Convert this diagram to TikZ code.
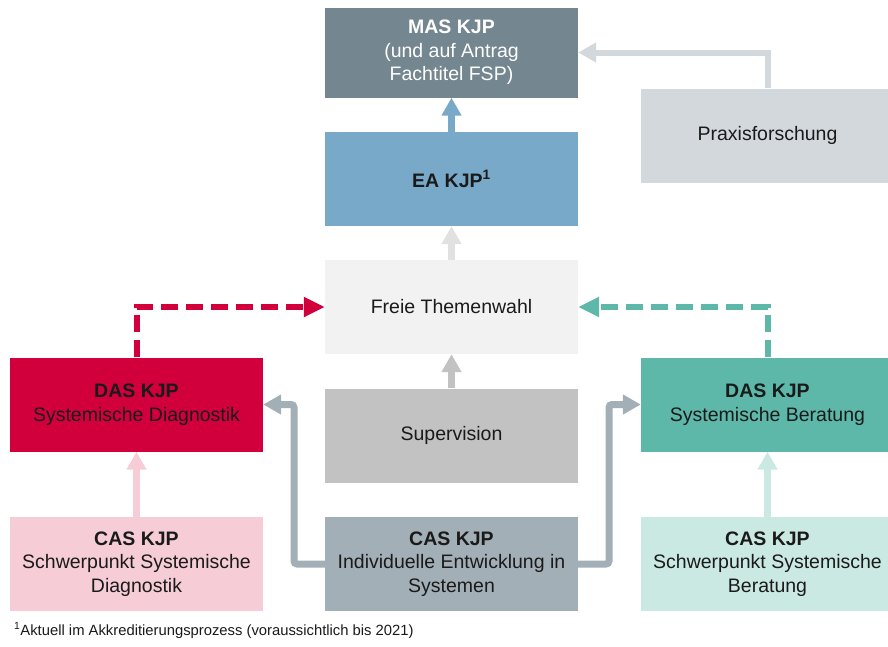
\documentclass[tikz,border=0pt]{standalone}
\usepackage{fontspec}
\setmainfont{Liberation Sans}
\usepackage{tikz}
\usetikzlibrary{arrows.meta,positioning,calc}
\usepackage{xcolor}

\definecolor{masgray}{HTML}{74868F}
\definecolor{praxgray}{HTML}{D3D8DC}
\definecolor{eablue}{HTML}{79A9C9}
\definecolor{freegray}{HTML}{F2F2F2}
\definecolor{diagred}{HTML}{D1003C}
\definecolor{supgray}{HTML}{C2C2C2}
\definecolor{berteal}{HTML}{5EB8AA}
\definecolor{diagpink}{HTML}{F6CDD6}
\definecolor{indgray}{HTML}{A3AFB7}
\definecolor{berpale}{HTML}{CBE9E3}
\definecolor{txtdark}{HTML}{1A1A1A}

\begin{document}
\begin{tikzpicture}[
    x=1pt, y=-1pt,
    module/.style={
        rectangle, minimum width=253pt, minimum height=94pt,
        inner sep=0pt, align=center, text=txtdark,
        font=\fontsize{19.5}{23.5}\selectfont
    },
    flow/.style={-{Triangle[length=18pt,width=19pt]}, line width=7pt},
    option/.style={-{Triangle[length=21pt,width=19pt]}, line width=6pt,
        dash pattern=on 17pt off 8pt},
    rail/.style={flow, rounded corners=3pt, indgray}
]
\useasboundingbox (0,0) rectangle (888,646);
\clip (0,0) rectangle (888,646);

% Module in der Mitte
\node[module, fill=masgray, text=white, minimum height=90pt] (mas) at (451.5,52.5)
    {\textbf{MAS KJP}\\(und auf Antrag\\Fachtitel FSP)};
\node[module, fill=eablue] (ea) at (451.5,179) {\textbf{EA KJP\textsuperscript{1}}};
\node[module, fill=freegray] (freie) at (451.5,307) {Freie Themenwahl};
\node[module, fill=supgray] (superv) at (451.5,435.5) {Supervision};
\node[module, fill=indgray] (casind) at (451.5,564)
    {\textbf{CAS KJP}\\Individuelle Entwicklung in\\Systemen};

% linke Spalte
\node[module, fill=diagred] (dasdiag) at (136.5,404.5)
    {\textbf{DAS KJP}\\Systemische Diagnostik};
\node[module, fill=diagpink] (casdiag) at (136.5,564)
    {\textbf{CAS KJP}\\Schwerpunkt Systemische\\Diagnostik};

% rechte Spalte
\node[module, fill=praxgray] (praxis) at (767.5,135.5) {Praxisforschung};
\node[module, fill=berteal] (dasber) at (767.5,404.5)
    {\textbf{DAS KJP}\\Systemische Beratung};
\node[module, fill=berpale] (casber) at (767.5,564)
    {\textbf{CAS KJP}\\Schwerpunkt Systemische\\Beratung};

% Fussnote
\node[anchor=base west, inner sep=0pt, text=txtdark,
    font=\fontsize{14.8}{17}\selectfont] (note) at (14,635)
    {\textsuperscript{1}Aktuell im Akkreditierungsprozess (voraussichtlich bis 2021)};

% senkrechte Pfeile
\draw[flow, eablue] (ea) -- (mas);
\draw[flow, freegray!85!gray] (freie) -- (ea);
\draw[flow, supgray] (superv) -- (freie);
\draw[flow, diagpink] (casdiag) -- (dasdiag);
\draw[flow, berpale] (casber) -- (dasber);
\draw[flow, praxgray, line width=6pt] (praxis) |- (mas);

% gestrichelte Wahl
\draw[option, diagred] (dasdiag) |- (freie);
\draw[option, berteal] (dasber) |- (freie);

% Schienen vom CAS Individuelle Entwicklung
\coordinate (lrail) at (294,404.5);
\coordinate (rrail) at (609,404.5);
\draw[rail] (casind) -| (lrail) -- (dasdiag);
\draw[rail] (casind) -| (rrail) -- (dasber);

\end{tikzpicture}
\end{document}
